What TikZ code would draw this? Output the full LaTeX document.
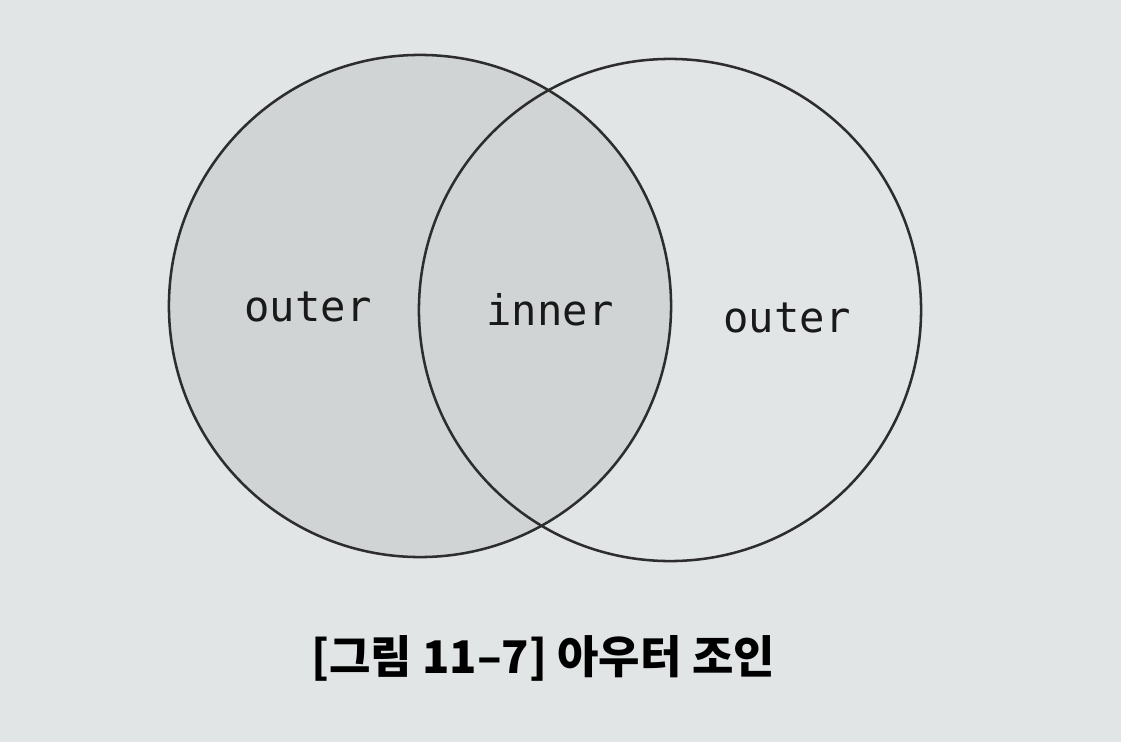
\documentclass[tikz,border=0pt]{standalone}
\usepackage{fontspec}
\setmonofont{DejaVu Sans Mono}
\newfontfamily\kofont{Noto Sans CJK KR}
\definecolor{paper}{RGB}{226,229,229}
\definecolor{shade}{RGB}{209,212,212}
\definecolor{ink}{RGB}{45,45,45}
\begin{document}
\begin{tikzpicture}[x=0.025cm,y=-0.025cm,
    setline/.style={draw=ink, line width=1.8pt, circle, inner sep=0pt, minimum size=12.55cm},
    setlabel/.style={font=\ttfamily\fontsize{30}{31}\selectfont, text=black!90, anchor=base}]
    % page and frame
    \fill[paper] (0,0) rectangle (1121,742);
    \useasboundingbox (0,0) rectangle (1121,742);
    % the two sets
    \node (leftset) [setline, fill=shade] at (420,306) {};
    \node (rightset) [setline] at (670,310) {};
    \node (leftouter) [setlabel] at (308,321) {outer};
    \node (inner) [setlabel] at (550,325) {inner};
    \node (rightouter) [setlabel] at (787,332) {outer};
    % caption
    \node (caption) at (543,658) {\kofont\bfseries\fontsize{32}{34}\selectfont [그림 11–7] 아우터 조인};
\end{tikzpicture}
\end{document}
